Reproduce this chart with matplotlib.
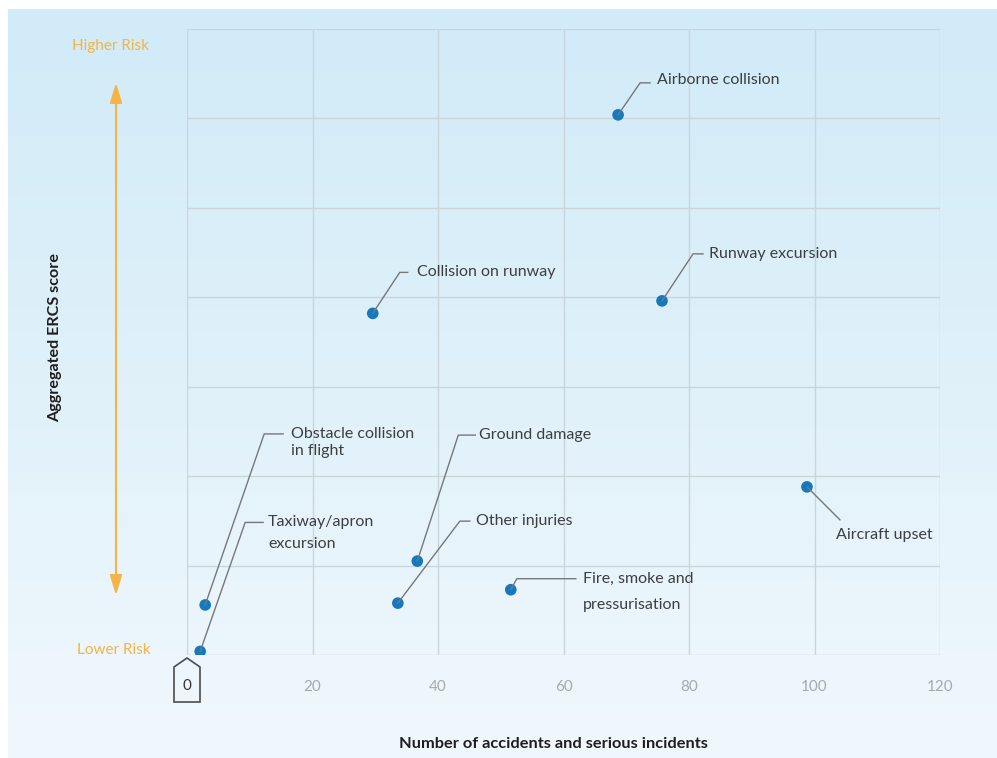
import numpy as np
import matplotlib
matplotlib.use("Agg")
import matplotlib.pyplot as plt
from matplotlib.patches import Polygon, FancyArrowPatch

# ---------------- data ----------------
labels = ["Airborne collision", "Collision on runway", "Runway excursion",
          "Aircraft upset", "Ground damage", "Other injuries",
          "Fire, smoke and\npressurisation", "Obstacle collision\nin flight",
          "Taxiway/apron\nexcursion"]
accidents = [68.7, 29.6, 75.7, 98.8, 36.7, 33.6, 51.6, 2.9, 2.1]
ercs_score = [6.04, 3.82, 3.96, 1.88, 1.05, 0.58, 0.73, 0.56, 0.04]
x_ticks = [20, 40, 60, 80, 100, 120]
y_grid = [0, 1, 2, 3, 4, 5, 6, 7]

# ---------------- layout (pixel offsets, image coords: y down) ----------------
elbow = [(22, -32), (27, -41), (31, -47), (33, 33), (41, -126), (62, -82),
         (6, -11), (59, -171), (45, -129)]
hrun = [10, 8, 10, 0, 17, 10, 59, 19, 18]
text_off = [(39, -35), (44, -41), (47, -47), (29, 48), (62, -126), (78, -82),
            (72, -11), (86, -171), (68, -129)]
line_gap = [0, 0, 0, 0, 0, 0, 26, 17, 22]

W, H = 997, 758
DPI = 100
fig = plt.figure(figsize=(W / DPI, H / DPI), dpi=DPI)
fig.patch.set_facecolor("white")

FONT = "Lato"
TXT = "#3c3f42"

# background gradient
bg = fig.add_axes([8 / W, 0, 1 - 8 / W, 1 - 9 / H], zorder=-10)
top = np.array([209, 235, 248]) / 255
mid = np.array([224, 241, 250]) / 255
bot = np.array([241, 248, 253]) / 255
t = np.linspace(0, 1, 256)[:, None, None]
grad = np.where(t < 0.5, top * (1 - 2 * t) + mid * (2 * t),
                mid * (2 - 2 * t) + bot * (2 * t - 1))
grad = np.repeat(grad, 4, axis=1)
bg.imshow(grad, aspect="auto", extent=[0, 1, 0, 1], interpolation="bicubic")
bg.axis("off")

# main axes
x0, x1, y0, y1 = 187, 940, 29, 655
ax = fig.add_axes([x0 / W, 1 - y1 / H, (x1 - x0) / W, (y1 - y0) / H])
ax.patch.set_alpha(0)
ax.set_xlim(0, 120)
ax.set_ylim(0, 7)
grid_c = "#cad5db"
for v in y_grid:
    ax.axhline(v, color=grid_c, lw=1.0, zorder=1)
for v in [0] + x_ticks:
    ax.axvline(v, color=grid_c, lw=1.0, zorder=1)
for s in ax.spines.values():
    s.set_visible(False)
ax.set_xticks([])
ax.set_yticks([])

ax.scatter(accidents, ercs_score, s=70, color="#1579bd", zorder=5,
           edgecolors="none")


def fig_px(px, py):
    return px / W, 1 - py / H


fig.canvas.draw()
for i, lab in enumerate(labels):
    dx, dy = ax.transData.transform((accidents[i], ercs_score[i]))
    ppx, ppy = dx, H - dy
    ex, ey = ppx + elbow[i][0], ppy + elbow[i][1]
    xs = [ppx, ex, ex + hrun[i]]
    ys = [ppy, ey, ey]
    fig.add_artist(plt.Line2D([x / W for x in xs], [1 - y / H for y in ys],
                              color="#75787b", lw=1.0,
                              transform=fig.transFigure, zorder=4))
    tx, ty = ppx + text_off[i][0], ppy + text_off[i][1]
    for k, line in enumerate(lab.split("\n")):
        fig.text(*fig_px(tx, ty + k * line_gap[i]), line, fontsize=11.5,
                 family=FONT, color=TXT, ha="left", va="center")

# x tick labels
for v in x_ticks:
    px = ax.transData.transform((v, 0))[0]
    fig.text(px / W, 1 - 687 / H, str(v), fontsize=11, family=FONT,
             color="#a6aaad", ha="center", va="center")

# "0" marker in pentagon
pent = [(174, 702), (174, 667), (187, 658), (200, 667), (200, 702)]
fig.add_artist(Polygon([fig_px(*p) for p in pent], closed=True, fill=False,
                       edgecolor="#4a4d50", lw=1.2, transform=fig.transFigure))
fig.text(*fig_px(187, 686), "0", fontsize=11, family=FONT, color="#333",
         ha="center", va="center")

# risk arrow
orange = "#f5b445"
fig.add_artist(FancyArrowPatch(
    fig_px(116, 598), fig_px(116, 80),
    arrowstyle="<|-|>,head_length=7.5,head_width=2.3",
    color=orange, lw=1.5, transform=fig.transFigure, mutation_scale=1.6))
fig.text(*fig_px(110, 46), "Higher Risk", fontsize=11, family=FONT,
         color=orange, ha="center", va="center")
fig.text(*fig_px(114, 650), "Lower Risk", fontsize=11, family=FONT,
         color=orange, ha="center", va="center")

# axis titles
fig.text(*fig_px(55, 338), "Aggregated ERCS score", fontsize=11.6, family=FONT,
         weight="bold", color="#1e1e1e", rotation=90, ha="center", va="center")
fig.text(*fig_px(553, 744), "Number of accidents and serious incidents",
         fontsize=11.8, family=FONT, weight="bold", color="#1e1e1e",
         ha="center", va="center")

fig.savefig("out.png", dpi=DPI)
